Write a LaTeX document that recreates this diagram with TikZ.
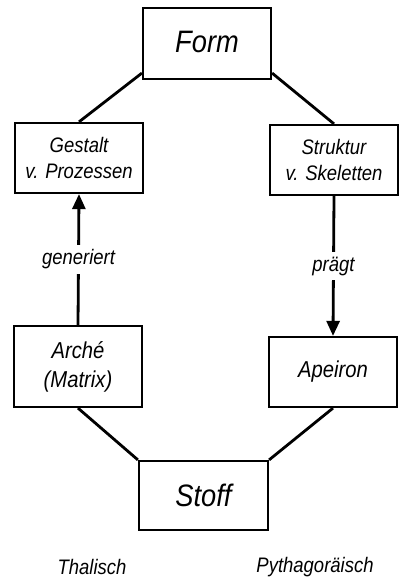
\documentclass[tikz,border=0pt]{standalone}
\usepackage{fontspec}
\setmainfont{Liberation Sans}[FakeStretch=0.88]
\usetikzlibrary{arrows.meta}

\tikzset{
  box/.style={draw, line width=2.2pt, rectangle, inner sep=0pt,
    minimum width=128pt, align=center},
  bigtext/.style={font=\fontsize{31}{34}\selectfont\itshape},
  smalltext/.style={font=\fontsize{21}{26}\selectfont\itshape},
  midtext/.style={font=\fontsize{23}{29}\selectfont\itshape},
  link/.style={line width=2.8pt},
  flow/.style={line width=2.8pt, -{Triangle[length=15pt,width=13pt]}},
  verb/.style={smalltext, fill=white, inner sep=5pt},
  school/.style={smalltext, inner sep=0pt}
}

\begin{document}
\begin{tikzpicture}[x=1pt, y=1pt]
  \useasboundingbox (0,0) rectangle (403,585);

  % boxes
  \node[box, bigtext, minimum height=71pt] (form) at (207,541.5) {\raisebox{3pt}{Form}};
  \node[box, smalltext, minimum height=70pt] (gestalt) at (79,427) {Gestalt\\v. Prozessen};
  \node[box, smalltext, minimum height=70pt] (struktur) at (334,425) {Struktur\\v. Skeletten};
  \node[box, midtext, minimum height=81pt] (arche) at (78,218.5) {Arché\\(Matrix)};
  \node[box, midtext, minimum height=70pt] (apeiron) at (333,213) {Apeiron};
  \node[box, bigtext, minimum height=69pt, minimum width=129pt] (stoff) at (203.5,89.5) {Stoff};

  % plain connections
  \draw[link] ([yshift=7pt]form.south west) -- (gestalt.north);
  \draw[link] ([yshift=7pt]form.south east) -- (struktur.north);
  \draw[link] (arche.south) -- (stoff.north west);
  \draw[link] (apeiron.south) -- (stoff.north east);

  % directed relations
  \draw[flow] (arche.north) -- node[verb] {generiert} (gestalt.south);
  \draw[flow] (struktur.south) -- node[verb] {prägt} (apeiron.north);

  % column captions
  \node[school] (thal) at (92,18) {Thalisch};
  \node[school] (pyth) at (315,18) {Pythagoräisch};
\end{tikzpicture}
\end{document}
